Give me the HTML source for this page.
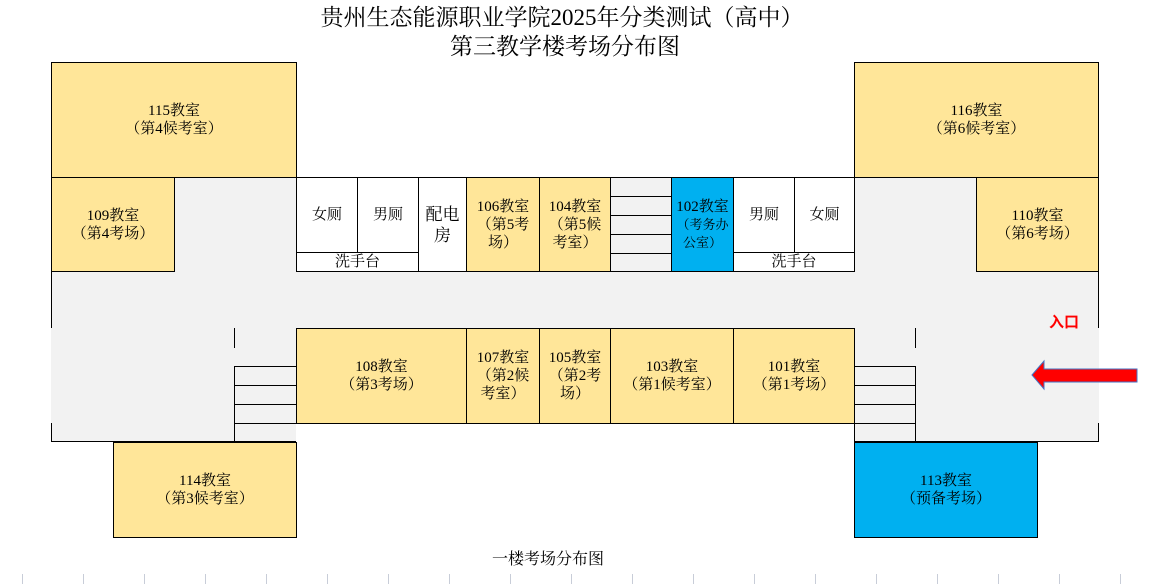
<!DOCTYPE html>
<html><head><meta charset="utf-8"><style>
body{margin:0;width:1170px;height:584px;background:#fff;position:relative;overflow:hidden;font-family:"Liberation Serif","Noto Serif CJK SC","Noto Sans CJK SC",serif;}
.b{position:absolute;box-sizing:border-box;border:1px solid #000;display:flex;align-items:center;justify-content:center;text-align:center;font-size:15px;line-height:18px;color:#000;}
.y{background:#ffe699}.c{background:#00b0f0}.w{background:#fff}.g{background:#f2f2f2}
.l{position:absolute;background:#000}
.t{position:absolute;width:600px;text-align:center;font-size:23px;line-height:28px;}
</style></head><body>
<div class="t" style="top:4px;left:262px">贵州生态能源职业学院2025年分类测试（高中）</div>
<div class="t" style="top:33px;left:265px">第三教学楼考场分布图</div>

<div style="position:absolute;left:51px;top:177px;width:1048px;height:265px;background:#f2f2f2"></div>
<div style="position:absolute;left:296px;top:423px;width:558px;height:20px;background:#fff"></div>

<div class="l" style="left:51px;top:62px;width:1px;height:266px"></div>
<div class="l" style="left:51px;top:423px;width:1px;height:19px"></div>
<div class="l" style="left:1098px;top:62px;width:1px;height:266px"></div>
<div class="l" style="left:1098px;top:423px;width:1px;height:19px"></div>
<div class="l" style="left:51px;top:441px;width:245px;height:1px"></div>
<div class="l" style="left:854px;top:441px;width:245px;height:1px"></div>
<div class="l" style="left:234px;top:328px;width:1px;height:20px"></div>
<div class="l" style="left:915px;top:328px;width:1px;height:20px"></div>

<div class="b y" style="left:51px;top:62px;width:246px;height:116px"><div>115教室<br>（第4候考室）</div></div>
<div class="b y" style="left:854px;top:62px;width:245px;height:116px"><div>116教室<br>（第6候考室）</div></div>

<div class="b y" style="left:51px;top:177px;width:124px;height:95px"><div>109教室<br>（第4考场）</div></div>
<div class="b w" style="left:296px;top:177px;width:62px;height:76px">女厕</div>
<div class="b w" style="left:357px;top:177px;width:62px;height:76px">男厕</div>
<div class="b w" style="left:296px;top:252px;width:123px;height:20px">洗手台</div>
<div class="b w" style="left:418px;top:177px;width:49px;height:95px;font-size:17px;line-height:21px"><div>配电<br>房</div></div>
<div class="b y" style="left:466px;top:177px;width:74px;height:95px"><div>106教室<br>（第5考<br>场）</div></div>
<div class="b y" style="left:539px;top:177px;width:72px;height:95px"><div>104教室<br>（第5候<br>考室）</div></div>
<div class="b g" style="left:610px;top:177px;width:62px;height:95px"></div>
<div class="l" style="left:610px;top:196px;width:61px;height:1px"></div>
<div class="l" style="left:610px;top:215px;width:61px;height:1px"></div>
<div class="l" style="left:610px;top:234px;width:61px;height:1px"></div>
<div class="l" style="left:610px;top:253px;width:61px;height:1px"></div>
<div class="b c" style="left:671px;top:177px;width:63px;height:95px"><div>102教室<br><span style="font-size:13px">（考务办<br>公室）</span></div></div>
<div class="b w" style="left:733px;top:177px;width:62px;height:76px">男厕</div>
<div class="b w" style="left:794px;top:177px;width:61px;height:76px">女厕</div>
<div class="b w" style="left:733px;top:252px;width:122px;height:20px">洗手台</div>
<div class="b y" style="left:976px;top:177px;width:123px;height:95px"><div>110教室<br>（第6考场）</div></div>

<div class="b y" style="left:296px;top:328px;width:171px;height:96px"><div>108教室<br>（第3考场）</div></div>
<div class="b y" style="left:466px;top:328px;width:74px;height:96px"><div>107教室<br>（第2候<br>考室）</div></div>
<div class="b y" style="left:539px;top:328px;width:72px;height:96px"><div>105教室<br>（第2考<br>场）</div></div>
<div class="b y" style="left:610px;top:328px;width:124px;height:96px"><div>103教室<br>（第1候考室）</div></div>
<div class="b y" style="left:733px;top:328px;width:122px;height:96px"><div>101教室<br>（第1考场）</div></div>

<div class="l" style="left:234px;top:366px;width:1px;height:76px"></div>
<div class="l" style="left:234px;top:366px;width:62px;height:1px"></div>
<div class="l" style="left:234px;top:385px;width:62px;height:1px"></div>
<div class="l" style="left:234px;top:404px;width:62px;height:1px"></div>
<div class="l" style="left:234px;top:423px;width:62px;height:1px"></div>
<div class="l" style="left:915px;top:366px;width:1px;height:76px"></div>
<div class="l" style="left:854px;top:366px;width:62px;height:1px"></div>
<div class="l" style="left:854px;top:385px;width:62px;height:1px"></div>
<div class="l" style="left:854px;top:404px;width:62px;height:1px"></div>
<div class="l" style="left:854px;top:423px;width:62px;height:1px"></div>
<div class="l" style="left:854px;top:424px;width:1px;height:18px"></div>

<div class="b y" style="left:113px;top:442px;width:184px;height:96px"><div>114教室<br>（第3候考室）</div></div>
<div class="b c" style="left:854px;top:442px;width:184px;height:96px"><div>113教室<br>（预备考场）</div></div>

<div style="position:absolute;left:1049px;top:311px;color:#f00;font-weight:bold;font-size:15px;font-family:'Liberation Sans','Noto Sans CJK SC',sans-serif">入口</div>
<svg style="position:absolute;left:1030px;top:358px" width="112" height="34"><polygon points="2,17 14,3 14,11 107,11 107,24 14,24 14,31" fill="#f00" stroke="#4472c4" stroke-width="1"/></svg>

<div style="position:absolute;left:448px;width:200px;top:546px;text-align:center;font-size:16px">一楼考场分布图</div>
<div style="position:absolute;left:0;top:574px;width:1170px;height:10px;background:repeating-linear-gradient(90deg,transparent 0,transparent 22px,#c8cdd8 22px,#c8cdd8 23px,transparent 23px,transparent 61px)"></div>
</body></html>
